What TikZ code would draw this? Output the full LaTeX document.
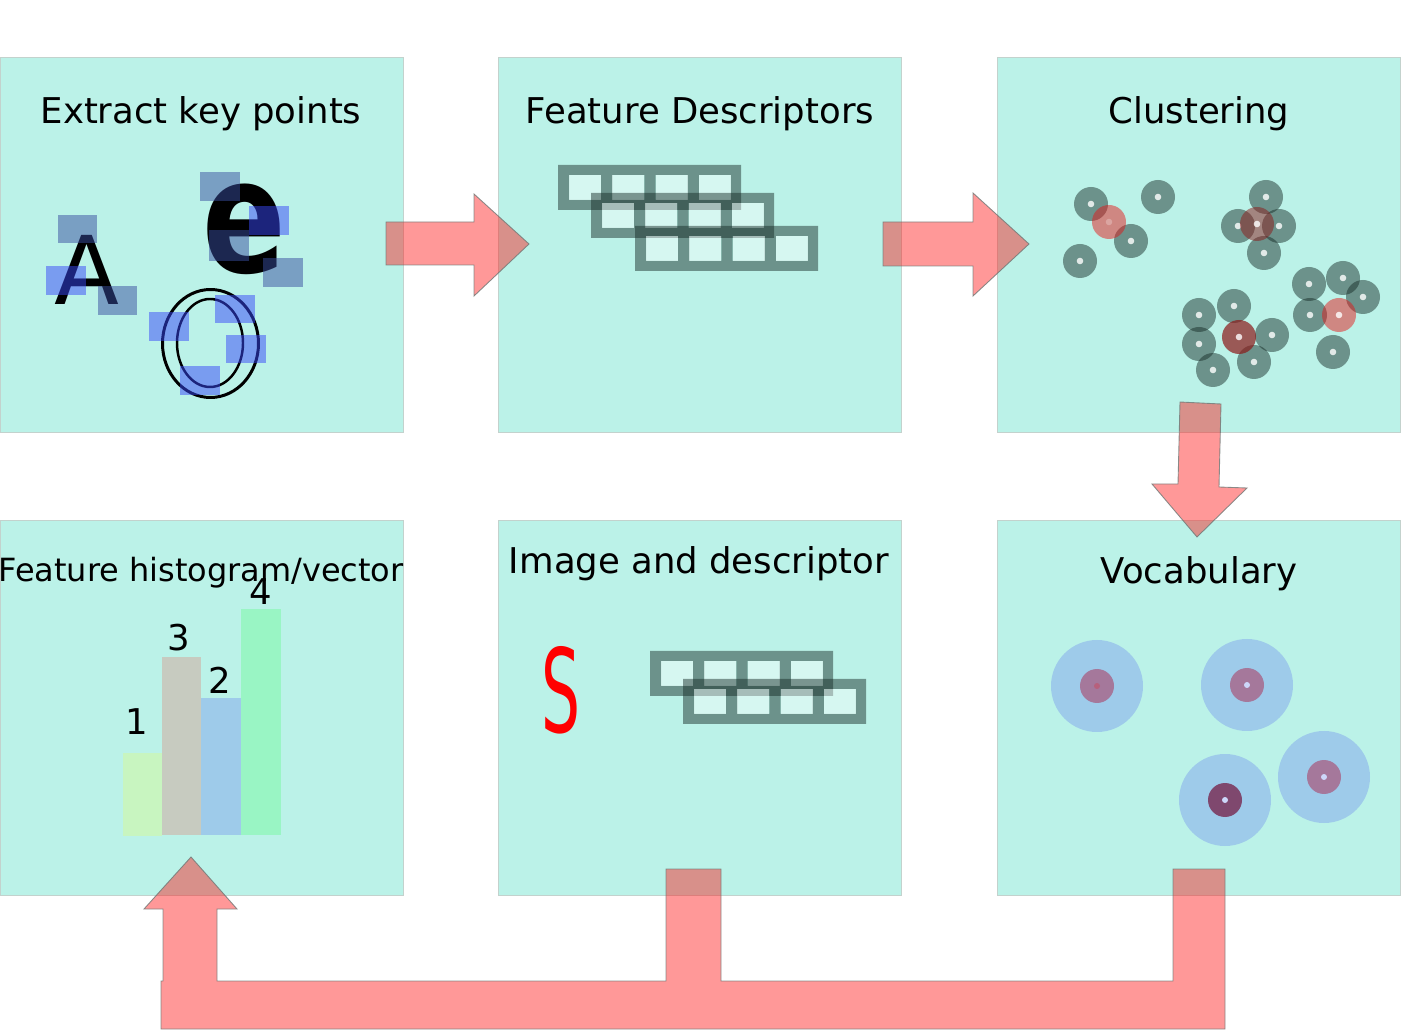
\documentclass[tikz,border=0pt]{standalone}
\usepackage{fontspec}
\setmainfont{DejaVu Sans}
\usepackage{tikz}
\usetikzlibrary{positioning}
\definecolor{panelc}{RGB}{187,242,232}
\definecolor{panelline}{RGB}{195,210,205}
\definecolor{arrowc}{RGB}{255,20,20}
\definecolor{arrowline}{RGB}{110,120,118}
\definecolor{kpbright}{RGB}{57,72,248}
\definecolor{kpgray}{RGB}{57,78,160}
\definecolor{darkc}{RGB}{20,40,35}
\definecolor{lightred}{RGB}{230,20,20}
\definecolor{deepred}{RGB}{140,25,25}
\definecolor{vocblue}{RGB}{158,203,234}
\definecolor{vocpink}{RGB}{165,120,155}
\definecolor{vocdeep}{RGB}{127,72,110}
\definecolor{vocdot}{RGB}{205,215,250}
\definecolor{histA}{RGB}{200,245,192}
\definecolor{histB}{RGB}{199,203,192}
\definecolor{histC}{RGB}{158,203,234}
\definecolor{histD}{RGB}{153,245,196}

\tikzset{
  panel/.style={draw=panelline, fill=panelc, line width=0.5pt, inner sep=0,
    minimum width=8.06cm, minimum height=7.5cm},
  ttl/.style={font=\fontsize{20.2}{24}\selectfont, inner sep=0},
  bigarrow/.style={fill=arrowc, fill opacity=0.44, draw=arrowline, draw opacity=0.8, line width=0.5pt},
  kpb/.style={fill=kpbright, opacity=0.5},
  kpg/.style={fill=kpgray, opacity=0.5},
  barframe/.style={fill=darkc, opacity=0.47, even odd rule},
  barcell/.style={fill=white, opacity=0.4},
  blob/.style={fill=darkc, opacity=0.47},
  blobdot/.style={fill=white, opacity=0.8}
}

\begin{document}
\begin{tikzpicture}[x=0.02cm, y=-0.02cm]
    \useasboundingbox (0,0) rectangle (1401,1030);

    % panels
    \node[panel] (P1) at (201.5,244.5) {};
    \node[panel] (P2) at (700,244.5) {};
    \node[panel] (P3) at (1199,244.5) {};
    \node[panel] (P4) at (201.5,707.5) {};
    \node[panel] (P5) at (700,707.5) {};
    \node[panel] (P6) at (1199,707.5) {};

    \node[ttl] (T1) at (201,114) {Extract key points};
    \node[ttl] (T2) at (700,114) {Feature Descriptors};
    \node[ttl] (T3) at (1199,114) {Clustering};
    \node[ttl, font=\fontsize{18.2}{22}\selectfont] (T4) at (201,573) {Feature histogram/vector};
    \node[ttl] (T5) at (699,564) {Image and descriptor};
    \node[ttl] (T6) at (1199,574) {Vocabulary};

    % key points
    \node[inner sep=0, font=\fontsize{54}{54}\selectfont] (LA) at (87,270) {A};
    \node[inner sep=0, font=\fontsize{90}{90}\bfseries\selectfont] (LE) at (244,229) {\scalebox{0.78}[1]{e}};
    \draw[line width=1.7pt] (210.5,343.5) ellipse (48 and 54);
    \draw[line width=1.4pt] (210,343) ellipse (33 and 44);
    \fill[kpg] (58,215) rectangle (97,243);
    \fill[kpb] (46,266) rectangle (86,295);
    \fill[kpg] (98,286) rectangle (137,315);
    \fill[kpg] (200,172) rectangle (240,201);
    \fill[kpb] (249,206) rectangle (289,235);
    \fill[kpg] (209,230) rectangle (249,261);
    \fill[kpg] (263,258) rectangle (303,287);
    \fill[kpb] (149,312) rectangle (189,341);
    \fill[kpb] (215,295) rectangle (255,323);
    \fill[kpb] (226,335) rectangle (266,363);
    \fill[kpb] (180,366) rectangle (220,395);

    % descriptors
    \foreach \bx/\by in {558/165, 591/193, 635/226, 650/651, 683/679} {
      \fill[barframe] (\bx,\by) rectangle +(183,45)
        foreach \i in {0,...,3} {(\bx+11+43.3*\i,\by+10) rectangle +(32,25)};
      \foreach \i in {0,...,3}
        \fill[barcell] (\bx+11+43.3*\i,\by+10) rectangle +(32,25);
    }

    % clustering
    \foreach \px/\py in {1091/204, 1158/197, 1131/241, 1080/261, 1266/197, 1238/226,
        1279/226, 1264/253, 1309/284, 1343/278, 1363/297, 1310/315, 1333/352,
        1199/315, 1234/306, 1199/344, 1272/335, 1213/370, 1254/362} {
      \fill[blob] (\px,\py) circle (17);
      \fill[blobdot] (\px,\py) circle (3.3);
    }
    \fill[lightred, opacity=0.48] (1109,222) circle (17);
    \fill[lightred, opacity=0.48] (1339,315) circle (17);
    \fill[deepred, opacity=0.5] (1257,224) circle (17);
    \fill[deepred, opacity=0.7] (1239,337) circle (17);
    \fill[white, opacity=0.25] (1109,222) circle (3.3);
    \fill[blobdot] (1339,315) circle (3.3);
    \fill[blobdot] (1257,224) circle (3.3);
    \fill[blobdot] (1239,337) circle (3.3);

    % vocabulary
    \foreach \px/\py/\pc in {1097/686/vocpink, 1247/685/vocpink, 1225/800/vocdeep, 1324/777/vocpink} {
      \fill[vocblue] (\px,\py) circle (46);
      \fill[\pc] (\px,\py) circle (17);
    }
    \fill[vocdot] (1247,685) circle (3);
    \fill[vocdot] (1225,800) circle (3);
    \fill[vocdot] (1324,777) circle (3);
    \fill[vocpink!80!red] (1097,686) circle (3);

    % image and descriptor
    \node[inner sep=0, text=red, font=\fontsize{66}{66}\selectfont] (S) at (561,690) {\scalebox{0.53}[1]{S}};

    % histogram
    \fill[histA] (123,753) rectangle (162,836);
    \fill[histB] (162,657) rectangle (201,835);
    \fill[histC] (201,698) rectangle (241,835);
    \fill[histD] (241,609) rectangle (281,835);
    \node[ttl] (N1) at (137,722) {1};
    \node[ttl] (N3) at (179,638) {3};
    \node[ttl] (N2) at (220,680) {2};
    \node[ttl] (N4) at (261,592) {4};

    % arrows
    \draw[bigarrow] (386,222) -- (474,222) -- (474,194) -- (529,244) -- (474,296)
      -- (474,265) -- (386,265) -- cycle;
    \draw[bigarrow] (883,222) -- (973,222) -- (973,193) -- (1029,244) -- (973,296)
      -- (973,266) -- (883,266) -- cycle;
    \draw[bigarrow] (1180,402) -- (1221,404) -- (1219,487) -- (1247,488) -- (1197,537)
      -- (1152,484) -- (1178,484) -- cycle;
    \draw[bigarrow] (161,1029) -- (1225,1029) -- (1225,869) -- (1173,869) -- (1173,981)
      -- (721,981) -- (721,869) -- (666,869) -- (666,981) -- (217,981) -- (217,909)
      -- (237,909) -- (191,857) -- (144,909) -- (163,909) -- (163,981) -- (161,981) -- cycle;
  \end{tikzpicture}
\end{document}
